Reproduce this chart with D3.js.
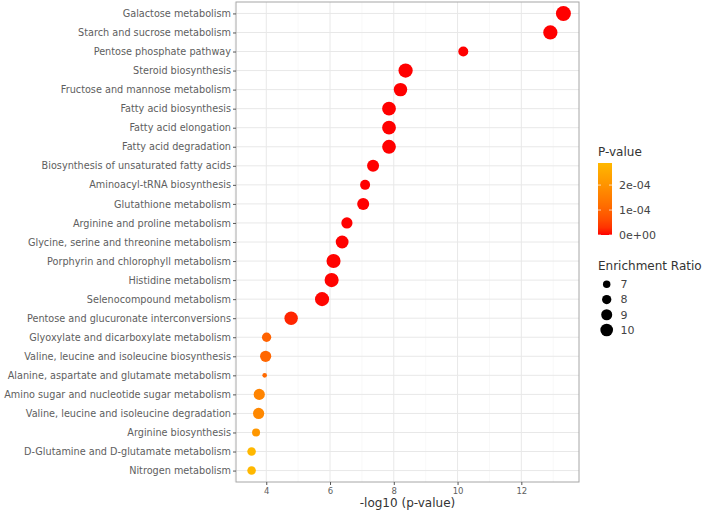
<!DOCTYPE html>
<html lang="en">
<head>
<meta charset="utf-8">
<title>Pathway enrichment dot plot</title>
<script src="https://cdn.jsdelivr.net/npm/d3@7"></script>
<style>
  body { margin: 0; background: #fff; }
  svg text { font-family: "DejaVu Sans", sans-serif; }
</style>
</head>
<body>
<svg id="chart" width="707" height="516"></svg>
<script>
// pathways top to bottom
var pathways = [
  "Galactose metabolism",
  "Starch and sucrose metabolism",
  "Pentose phosphate pathway",
  "Steroid biosynthesis",
  "Fructose and mannose metabolism",
  "Fatty acid biosynthesis",
  "Fatty acid elongation",
  "Fatty acid degradation",
  "Biosynthesis of unsaturated fatty acids",
  "Aminoacyl-tRNA biosynthesis",
  "Glutathione metabolism",
  "Arginine and proline metabolism",
  "Glycine, serine and threonine metabolism",
  "Porphyrin and chlorophyll metabolism",
  "Histidine metabolism",
  "Selenocompound metabolism",
  "Pentose and glucuronate interconversions",
  "Glyoxylate and dicarboxylate metabolism",
  "Valine, leucine and isoleucine biosynthesis",
  "Alanine, aspartate and glutamate metabolism",
  "Amino sugar and nucleotide sugar metabolism",
  "Valine, leucine and isoleucine degradation",
  "Arginine biosynthesis",
  "D-Glutamine and D-glutamate metabolism",
  "Nitrogen metabolism"
];
var negLogP = [13.32, 12.91, 10.18, 8.37, 8.21, 7.85, 7.85, 7.85, 7.35, 7.10,
               7.04, 6.53, 6.38, 6.11, 6.05, 5.75, 4.78, 4.01, 3.98, 3.95,
               3.78, 3.76, 3.68, 3.54, 3.54];
var enrichmentRatio = [11.5, 11.0, 8.4, 11.0, 10.5, 10.7, 10.7, 10.7, 9.6, 8.4,
                       9.6, 9.1, 10.1, 10.9, 10.9, 10.9, 10.5, 8.0, 9.1, 5.6,
                       9.1, 9.1, 7.3, 7.6, 7.6];
var xTicks = [4, 6, 8, 10, 12];
var xMinorTicks = [3, 5, 7, 9, 11, 13];
var pTicks = [0, 1e-4, 2e-4];
var pTickLabels = ["0e+00", "1e-04", "2e-04"];
var sizeKeys = [7, 8, 9, 10];

var rows = pathways.map(function(name, i) {
  return { name: name, x: negLogP[i], p: Math.pow(10, -negLogP[i]), ratio: enrichmentRatio[i] };
});

var svg = d3.select("#chart");
var panel = { left: 236, right: 579, top: 2, bottom: 482 };

// ggplot style 5% expansion of the data range
var ext = d3.extent(negLogP);
var pad = (ext[1] - ext[0]) * 0.05;
var x = d3.scaleLinear().domain([ext[0] - pad, ext[1] + pad]).range([panel.left, panel.right]);
var y = d3.scalePoint().domain(pathways).range([panel.top, panel.bottom]).padding(0.6);

var pMax = d3.max(rows, function(d) { return d.p; });
var color = d3.scaleLinear().domain([0, pMax]).range(["#ff0000", "#ffb800"]).interpolate(d3.interpolateLab);
var size = d3.scaleSqrt().domain(d3.extent(enrichmentRatio)).range([2.3, 7.5]);

// grid
var grid = svg.append("g");
grid.selectAll("line.minor").data(xMinorTicks).enter().append("line")
  .attr("x1", function(d) { return x(d); }).attr("x2", function(d) { return x(d); })
  .attr("y1", panel.top).attr("y2", panel.bottom)
  .attr("stroke", "#f4f4f4").attr("stroke-width", 0.6);
grid.selectAll("line.major").data(xTicks).enter().append("line")
  .attr("x1", function(d) { return x(d); }).attr("x2", function(d) { return x(d); })
  .attr("y1", panel.top).attr("y2", panel.bottom)
  .attr("stroke", "#e8e8e8").attr("stroke-width", 1);
grid.selectAll("line.row").data(pathways).enter().append("line")
  .attr("x1", panel.left).attr("x2", panel.right)
  .attr("y1", function(d) { return y(d); }).attr("y2", function(d) { return y(d); })
  .attr("stroke", "#e8e8e8").attr("stroke-width", 1);

// points
svg.append("g").selectAll("circle").data(rows).enter().append("circle")
  .attr("cx", function(d) { return x(d.x); })
  .attr("cy", function(d) { return y(d.name); })
  .attr("r", function(d) { return size(d.ratio); })
  .attr("fill", function(d) { return color(d.p); });

// panel border
svg.append("rect")
  .attr("x", panel.left).attr("y", panel.top)
  .attr("width", panel.right - panel.left).attr("height", panel.bottom - panel.top)
  .attr("fill", "none").attr("stroke", "#a6a6a6").attr("stroke-width", 1);

// y axis
var yAxis = svg.append("g")
  .attr("transform", "translate(" + panel.left + ",0)")
  .call(d3.axisLeft(y).tickSize(3).tickPadding(2));
yAxis.select(".domain").remove();
yAxis.selectAll("line").attr("stroke", "#555");
yAxis.selectAll("text").attr("fill", "#5e5e5e").style("font-size", "9.7px")
  .style("font-family", "'DejaVu Sans', sans-serif");

// x axis
var xAxis = svg.append("g")
  .attr("transform", "translate(0," + panel.bottom + ")")
  .call(d3.axisBottom(x).tickValues(xTicks).tickSize(3).tickPadding(3));
xAxis.select(".domain").remove();
xAxis.selectAll("line").attr("stroke", "#555");
xAxis.selectAll("text").attr("fill", "#5e5e5e").style("font-size", "8.5px")
  .style("font-family", "'DejaVu Sans', sans-serif");

svg.append("text")
  .attr("x", (panel.left + panel.right) / 2).attr("y", 507)
  .attr("text-anchor", "middle").attr("fill", "#333")
  .style("font-size", "12px")
  .text("-log10 (p-value)");

// colour legend
var legX = 598;
svg.append("text").attr("x", legX).attr("y", 156).attr("fill", "#333")
  .style("font-size", "12px").text("P-value");

var barTop = 163, barBottom = 235, barW = 14;
var pBar = d3.scaleLinear().domain([0, pMax]).range([barBottom, barTop]);
var grad = svg.append("defs").append("linearGradient")
  .attr("id", "pgrad").attr("x1", 0).attr("y1", 1).attr("x2", 0).attr("y2", 0);
d3.range(0, 1.0001, 0.1).forEach(function(t) {
  grad.append("stop").attr("offset", t).attr("stop-color", color(t * pMax));
});
svg.append("rect").attr("x", legX).attr("y", barTop)
  .attr("width", barW).attr("height", barBottom - barTop)
  .attr("fill", "url(#pgrad)");
pTicks.forEach(function(v, i) {
  var ty = pBar(v);
  svg.append("line").attr("x1", legX).attr("x2", legX + 3).attr("y1", ty).attr("y2", ty)
    .attr("stroke", "#fff").attr("stroke-opacity", 0.7);
  svg.append("line").attr("x1", legX + barW - 3).attr("x2", legX + barW).attr("y1", ty).attr("y2", ty)
    .attr("stroke", "#fff").attr("stroke-opacity", 0.7);
  svg.append("text").attr("x", 619).attr("y", ty).attr("dy", "0.35em")
    .attr("fill", "#444").style("font-size", "11px").text(pTickLabels[i]);
});

// size legend
svg.append("text").attr("x", legX).attr("y", 270).attr("fill", "#333")
  .style("font-size", "12px").text("Enrichment Ratio");
var keyY = d3.scalePoint().domain(sizeKeys).range([284.3, 330]);
sizeKeys.forEach(function(k) {
  svg.append("circle").attr("cx", 606.7).attr("cy", keyY(k)).attr("r", size(k)).attr("fill", "#000");
  svg.append("text").attr("x", 620.5).attr("y", keyY(k)).attr("dy", "0.35em")
    .attr("fill", "#444").style("font-size", "11px").text(k);
});
</script>
</body>
</html>
